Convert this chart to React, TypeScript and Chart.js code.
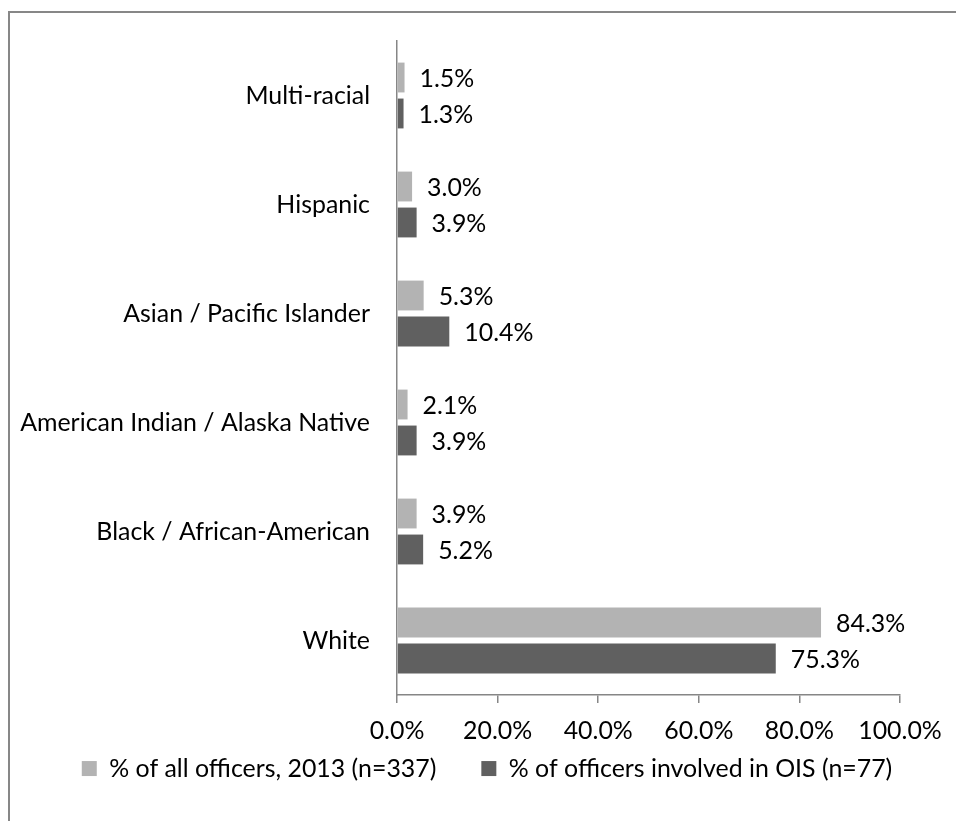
import { useEffect, useRef } from 'react';
import { Chart, registerables } from 'chart.js';

Chart.register(...registerables);

const categories = [
  'Multi-racial',
  'Hispanic',
  'Asian / Pacific Islander',
  'American Indian / Alaska Native',
  'Black / African-American',
  'White',
];
const allOfficers2013 = [1.5, 3.0, 5.3, 2.1, 3.9, 84.3];
const officersInOIS = [1.3, 3.9, 10.4, 3.9, 5.2, 75.3];
const seriesNames = ['% of all officers, 2013 (n=337)', '% of officers involved in OIS (n=77)'];
const xTickValues = [0, 20, 40, 60, 80, 100];

const FONT_FAMILY = 'Lato, Carlito, Calibri, sans-serif';
const AXIS_COLOR = '#868686';

function fitFontSize(): number {
  const c = document.createElement('canvas').getContext('2d');
  if (!c) return 25;
  c.font = `100px ${FONT_FAMILY}`;
  const w = c.measureText('American Indian / Alaska Native').width;
  return w > 0 ? (100 * 350) / w : 25;
}

export default function App() {
  const ref = useRef<HTMLCanvasElement | null>(null);

  useEffect(() => {
    const canvas = ref.current;
    if (!canvas) return;
    const fs = fitFontSize();
    const font = { family: FONT_FAMILY, size: fs };
    const legendPadding = 45;
    const bottomPad = 30;
    const plotBottom = 695;
    // x-axis box height chosen so that the plot ends at plotBottom
    const xAxisHeight = 821 - bottomPad - (fs + legendPadding + 10) - plotBottom;

    const framePlugin = {
      id: 'frame',
      beforeDraw(chart: any) {
        const ctx = chart.ctx;
        ctx.save();
        ctx.fillStyle = '#ffffff';
        ctx.fillRect(0, 0, chart.width, chart.height);
        ctx.strokeStyle = '#878787';
        ctx.lineWidth = 2;
        ctx.beginPath();
        ctx.moveTo(chart.width + 10, 12);
        ctx.lineTo(9, 12);
        ctx.lineTo(9, chart.height + 10);
        ctx.stroke();
        ctx.restore();
      },
    };

    const valueLabels = {
      id: 'valueLabels',
      afterDatasetsDraw(chart: any) {
        const ctx = chart.ctx;
        ctx.save();
        ctx.font = `${fs}px ${FONT_FAMILY}`;
        ctx.fillStyle = '#000000';
        ctx.textAlign = 'left';
        ctx.textBaseline = 'middle';
        chart.data.datasets.forEach((ds: any, di: number) => {
          const meta = chart.getDatasetMeta(di);
          meta.data.forEach((bar: any, i: number) => {
            const v = ds.data[i] as number;
            ctx.fillText(v.toFixed(1) + '%', bar.x + 15, bar.y + 1);
          });
        });
        ctx.restore();
      },
    };

    const chart = new Chart(canvas, {
      type: 'bar',
      data: {
        labels: categories,
        datasets: [
          {
            label: seriesNames[0],
            data: allOfficers2013,
            backgroundColor: '#b3b3b3',
            categoryPercentage: 0.66,
            barPercentage: 0.83,
          },
          {
            label: seriesNames[1],
            data: officersInOIS,
            backgroundColor: '#606060',
            categoryPercentage: 0.66,
            barPercentage: 0.83,
          },
        ],
      },
      options: {
        indexAxis: 'y',
        animation: false,
        responsive: false,
        devicePixelRatio: 1,
        layout: { padding: { top: 41, left: 18, right: 0, bottom: bottomPad } },
        scales: {
          x: {
            type: 'linear',
            min: 0,
            max: 100,
            afterBuildTicks(scale: any) {
              scale.ticks = xTickValues.map((v) => ({ value: v }));
            },
            ticks: {
              callback: (v: any) => Number(v).toFixed(1) + '%',
              font,
              color: '#000000',
              padding: 13,
              maxRotation: 0,
              autoSkip: false,
            },
            grid: {
              drawOnChartArea: false,
              drawTicks: true,
              tickLength: 8,
              color: AXIS_COLOR,
              lineWidth: 1.5,
            },
            border: { display: true, color: AXIS_COLOR, width: 1.5 },
            afterFit(scale: any) {
              scale.height = xAxisHeight;
              scale.paddingLeft = 0;
              scale.paddingRight = 56;
              // let tick labels draw below the shortened axis box
              scale._computeLabelArea = () => undefined;
            },
          },
          y: {
            type: 'category',
            ticks: { font, color: '#000000', padding: 27, autoSkip: false },
            grid: { display: false, drawTicks: false },
            border: { display: true, color: AXIS_COLOR, width: 1.5 },
            afterFit(scale: any) {
              scale.width = 397 - 18;
              scale.paddingTop = 0;
              scale.paddingBottom = 0;
            },
          },
        },
        plugins: {
          legend: {
            position: 'bottom',
            labels: {
              font,
              color: '#000000',
              boxWidth: 15,
              boxHeight: 15,
              padding: legendPadding,
            },
          },
          tooltip: { enabled: false },
        },
      },
      plugins: [framePlugin, valueLabels],
    });

    return () => chart.destroy();
  }, []);

  return (
    <canvas
      ref={ref}
      width={956}
      height={821}
      style={{ position: 'fixed', left: 0, top: 0, width: 956, height: 821, display: 'block' }}
    />
  );
}
